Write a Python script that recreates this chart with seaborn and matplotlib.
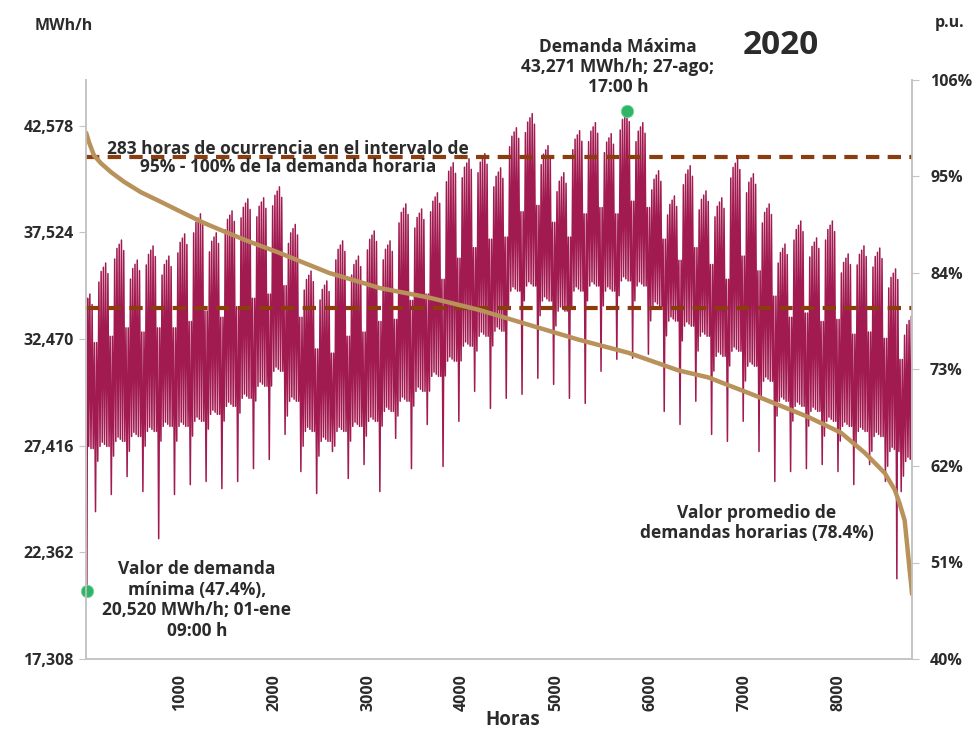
import numpy as np
import pandas as pd
import matplotlib
matplotlib.use("Agg")
import matplotlib.pyplot as plt
import seaborn as sns
from matplotlib.ticker import FuncFormatter

# ---------------- data ----------------
# Weeks run Monday-Sunday; week 0 = Wed 01-Jan .. Sun 05-Jan, week 52 = Mon 28-Dec .. Thu 31-Dec
week_peak = [34600, 36070, 37160, 36210, 36880, 36400, 37450, 38400, 37500, 38540,
             39110, 39160, 39680, 37900, 35690, 35220, 37120, 36400, 37590, 37120,
             38870, 38630, 39400, 40820, 41010, 41250, 40580, 42480, 43150, 41630,
             40350, 42340, 42720, 42200, 43271, 42720, 40440, 39250, 40680, 39490,
             39160, 41000, 40300, 38870, 36970, 38060, 37260, 38060, 36500, 36880,
             36780, 35790, 33550]
week_trough = [27280, 27380, 27620, 27850, 28090, 28330, 28330, 28570, 28900, 29280,
               29660, 30230, 30940, 29520, 28090, 27620, 28090, 28330, 28570, 29040,
               29520, 29990, 30700, 31420, 32130, 32600, 32840, 34740, 34980, 34270,
               33790, 34740, 34980, 34740, 35220, 34980, 34030, 33320, 33080, 32600,
               31650, 31890, 31180, 30470, 29520, 29280, 29040, 28570, 28330, 28090,
               27850, 27140, 26670]
weekend_peak = [32300, 32600, 33000, 32800, 33000, 33000, 33300, 33800, 33500, 34000,
                34400, 34600, 35000, 33500, 32000, 31800, 32600, 32800, 33300, 33400,
                34300, 34600, 35300, 36300, 36800, 37200, 37300, 38500, 38800, 38000,
                37300, 38400, 38700, 38400, 39000, 38700, 37200, 36200, 36800, 36000,
                35300, 36400, 35700, 34500, 33500, 33700, 33300, 33400, 32700, 32800,
                32500, 31500, 30500]
sunday_trough = [24290, 25100, 25950, 25240, 23010, 25100, 25570, 25720, 25380, 25720,
                 26330, 26760, 27950, 26190, 25150, 27140, 25860, 26520, 25240, 27760,
                 26330, 28420, 26430, 28570, 29990, 29180, 29660, 29850, 30610, 30320,
                 29660, 29420, 30940, 31510, 31560, 31750, 29040, 28420, 29520, 27950,
                 27620, 28570, 27140, 25720, 26190, 26330, 26520, 26190, 25570, 26520,
                 25720, 25240, 25240]
# weekday deviations of the daily peak / trough from the weekly value (Mon..Fri)
weekday_peak_offset = [-900, -400, -200, 0, -500]
weekday_trough_offset = [-700, 0, 200, 100, 0]
holiday_trough = {0: (9, 20520), 359: (7, 21110)}   # day -> (hour, MWh/h)

# load-duration curve (p.u. of maximum demand)
dur_hours = [0, 7, 32, 85, 160, 266, 404, 585, 798, 1043, 1255, 1500, 1755, 2032, 2587,
             2937, 3118, 3648, 4178, 4708, 5239, 5769, 6299, 6617, 7147, 7678, 8028, 8282,
             8494, 8600, 8650, 8706, 8738, 8760, 8775, 8784]
dur_pu = [100.0, 99.8, 98.9, 97.4, 96.5, 95.5, 94.4, 93.2, 92.1, 90.8, 89.7, 88.6, 87.5,
          86.4, 84.0, 82.9, 82.3, 81.2, 79.8, 78.1, 76.4, 74.9, 72.9, 72.1, 69.9, 67.6,
          65.8, 63.5, 61.2, 59.3, 57.8, 55.8, 52.4, 50.0, 48.5, 47.4]

max_demand, max_hour = 43271, 5753
min_demand, min_hour = 20520, 9
avg_pu = 78.4
band_pu = 95.0

left_ticks = [17308, 22362, 27416, 32470, 37524, 42578]
right_ticks = [40, 51, 62, 73, 84, 95, 106]
x_ticks = [1000, 2000, 3000, 4000, 5000, 6000, 7000, 8000]
n_hours = 8784

# ---------------- build the plotted series ----------------
hours, mwh = [], []
for d in range(366):
    w = (d + 2) // 7
    wd = (d + 2) % 7
    if wd < 5:
        lo = week_trough[w] + weekday_trough_offset[wd]
        hi = week_peak[w] + weekday_peak_offset[wd]
    elif wd == 5:
        lo, hi = week_trough[w], weekend_peak[w]
    else:
        lo, hi = sunday_trough[w], weekend_peak[w]
    th = 5
    if d in holiday_trough:
        th, lo = holiday_trough[d]
    hours += [d * 24 + th, d * 24 + 17]
    mwh += [lo, hi]
df = pd.DataFrame({"hora": hours, "mwh": mwh})
dur = pd.DataFrame({"hora": dur_hours, "pu": dur_pu})

# ---------------- style ----------------
sns.set_style("white")
plt.rcParams["font.family"] = ["Open Sans", "DejaVu Sans"]
plt.rcParams["font.weight"] = "bold"

TXT = "#2b2b2b"
SPINE = "#c4c4c4"
RED = "#a11a50"
TAN = "#b8925a"
DASH = "#8c3d10"

fig = plt.figure(figsize=(9.74, 7.32), dpi=100)
fig.patch.set_facecolor("white")
ax = fig.add_axes([86 / 974, 73 / 732, 826 / 974, 579 / 732])
ax2 = ax.twinx()

sns.lineplot(data=df, x="hora", y="mwh", ax=ax, color=RED, linewidth=1.1,
             estimator=None, legend=False)
ax.axhline(max_demand * band_pu / 100, color=DASH, linewidth=3, dashes=(3.2, 2.0), zorder=3)
ax.axhline(max_demand * avg_pu / 100, color=DASH, linewidth=3, dashes=(3.2, 2.0), zorder=3)
ax.scatter([max_hour, min_hour], [max_demand, min_demand], s=80, color="#2fb566",
           edgecolor="#7fd6a0", linewidth=0.6, zorder=6, clip_on=False)

sns.lineplot(data=dur, x="hora", y="pu", ax=ax2, color=TAN, linewidth=3.2,
             estimator=None, legend=False)

ax.set_xlim(0, n_hours)
ax.set_ylim(17308, 44742)
ax2.set_ylim(40, 106)
ax.set_yticks(left_ticks)
ax2.set_yticks(right_ticks)
ax.set_xticks(x_ticks)
ax.yaxis.set_major_formatter(FuncFormatter(lambda v, p: f"{int(round(v)):,}"))
ax2.yaxis.set_major_formatter(FuncFormatter(lambda v, p: f"{int(round(v))}%"))
ax.set_xlabel("")
ax.set_ylabel("")
ax2.set_ylabel("")

for a in (ax, ax2):
    a.spines["top"].set_visible(False)
    for s in ("left", "right", "bottom"):
        a.spines[s].set_color(SPINE)
        a.spines[s].set_linewidth(1.2)
ax.tick_params(axis="y", which="major", length=5, color=SPINE, labelsize=11.5,
               labelcolor=TXT, pad=4, direction="out")
ax2.tick_params(axis="y", which="major", length=5, color=SPINE, labelsize=11.5,
                labelcolor=TXT, pad=8, direction="out")
ax.tick_params(axis="x", which="major", length=5, color=SPINE, labelsize=11.5,
               labelcolor=TXT, pad=6, direction="out", labelrotation=90)
for lab in ax.get_xticklabels() + ax.get_yticklabels() + ax2.get_yticklabels():
    lab.set_fontweight("bold")

# ---------------- texts ----------------
def ftext(x, y, s, size, **kw):
    fig.text(x / 974, 1 - y / 732, s, fontsize=size, fontweight="bold", color=TXT,
             ha="center", va="center", **kw)

ftext(64, 26, "MWh/h", 11.5)
ftext(950, 23, "p.u.", 11.5)
ftext(781, 45, "2020", 24)
ftext(618, 67, "Demanda Máxima\n43,271 MWh/h; 27-ago;\n17:00 h", 12.5, linespacing=1.15)
ftext(288, 158, "283 horas de ocurrencia en el intervalo de\n95% - 100% de la demanda horaria",
      12.5, linespacing=1.05, zorder=10)
ftext(197, 600, "Valor de demanda\nmínima (47.4%),\n20,520 MWh/h; 01-ene\n09:00 h", 12.5,
      linespacing=1.2)
ftext(757, 523, "Valor promedio de\ndemandas horarias (78.4%)", 12.5, linespacing=1.2)
ftext(513, 720, "Horas", 13.5)

fig.savefig("out.png", dpi=100, facecolor="white")
